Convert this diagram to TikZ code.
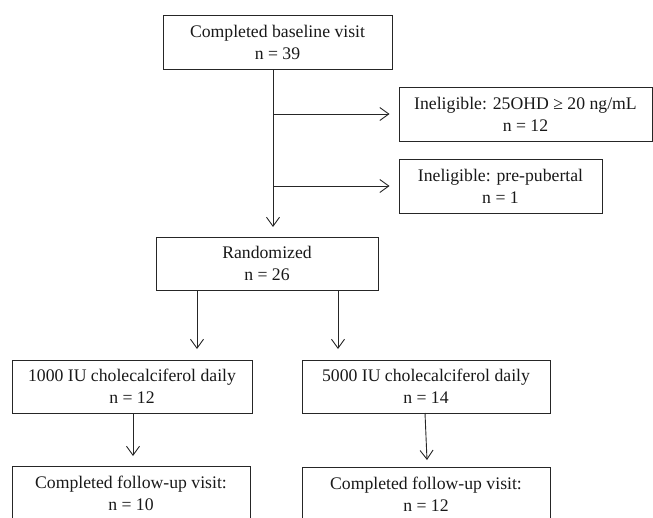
\documentclass[tikz,border=0pt]{standalone}
\usepackage{fontspec}
\setmainfont{Liberation Serif}
\usetikzlibrary{arrows.meta}
\begin{document}
\begin{tikzpicture}[x=1pt,y=-1pt,
  box/.style={draw=black!85, line width=0.9pt, rectangle, inner sep=0pt, align=center,
    font=\fontsize{17.7}{22}\selectfont, text=black!90,
    execute at begin node={\rule{0pt}{17pt}}},
  arr/.style={draw=black!85, line width=0.9pt, -{Straight Barb[length=9pt,width=13pt,line width=0.9pt]}}]
\useasboundingbox (0,0) rectangle (653,517);
\node[box, minimum width=229pt, minimum height=54pt] (base) at (277.5,42) {Completed baseline visit\\n = 39};
\node[box, minimum width=253pt, minimum height=54pt] (in1) at (525.5,114) {Ineligible: 25OHD ≥ 20 ng/mL\\n = 12};
\node[box, minimum width=203pt, minimum height=54pt] (in2) at (500.5,186) {Ineligible: pre-pubertal\\n = 1};
\node[box, minimum width=222pt, minimum height=53pt] (rand) at (267,263.5) {Randomized\\n = 26};
\node[box, minimum width=240pt, minimum height=53pt] (g1) at (132,386.5) {1000 IU cholecalciferol daily\\n = 12};
\node[box, minimum width=248pt, minimum height=53pt] (g2) at (426,386.5) {5000 IU cholecalciferol daily\\n = 14};
\node[box, minimum width=238pt, minimum height=54pt] (f1) at (131,493) {Completed follow-up visit:\\n = 10};
\node[box, minimum width=248pt, minimum height=54pt] (f2) at (426,494) {Completed follow-up visit:\\n = 12};
\coordinate (trunk) at (273,227);
\coordinate (a1) at (197,349);
\coordinate (a2) at (338,349);
\coordinate (b1) at (133,456);
\coordinate (b2t) at (425,413);
\coordinate (b2) at (427,460);
\draw[arr] (base.south -| trunk) -- (trunk);
\draw[arr, shorten >=9pt] (trunk |- in1.west) -- (in1.west);
\draw[arr, shorten >=9pt] (trunk |- in2.west) -- (in2.west);
\draw[arr] (rand.south -| a1) -- (a1);
\draw[arr] (rand.south -| a2) -- (a2);
\draw[arr] (g1.south -| b1) -- (b1);
\draw[arr] (b2t) -- (b2);
\end{tikzpicture}
\end{document}
